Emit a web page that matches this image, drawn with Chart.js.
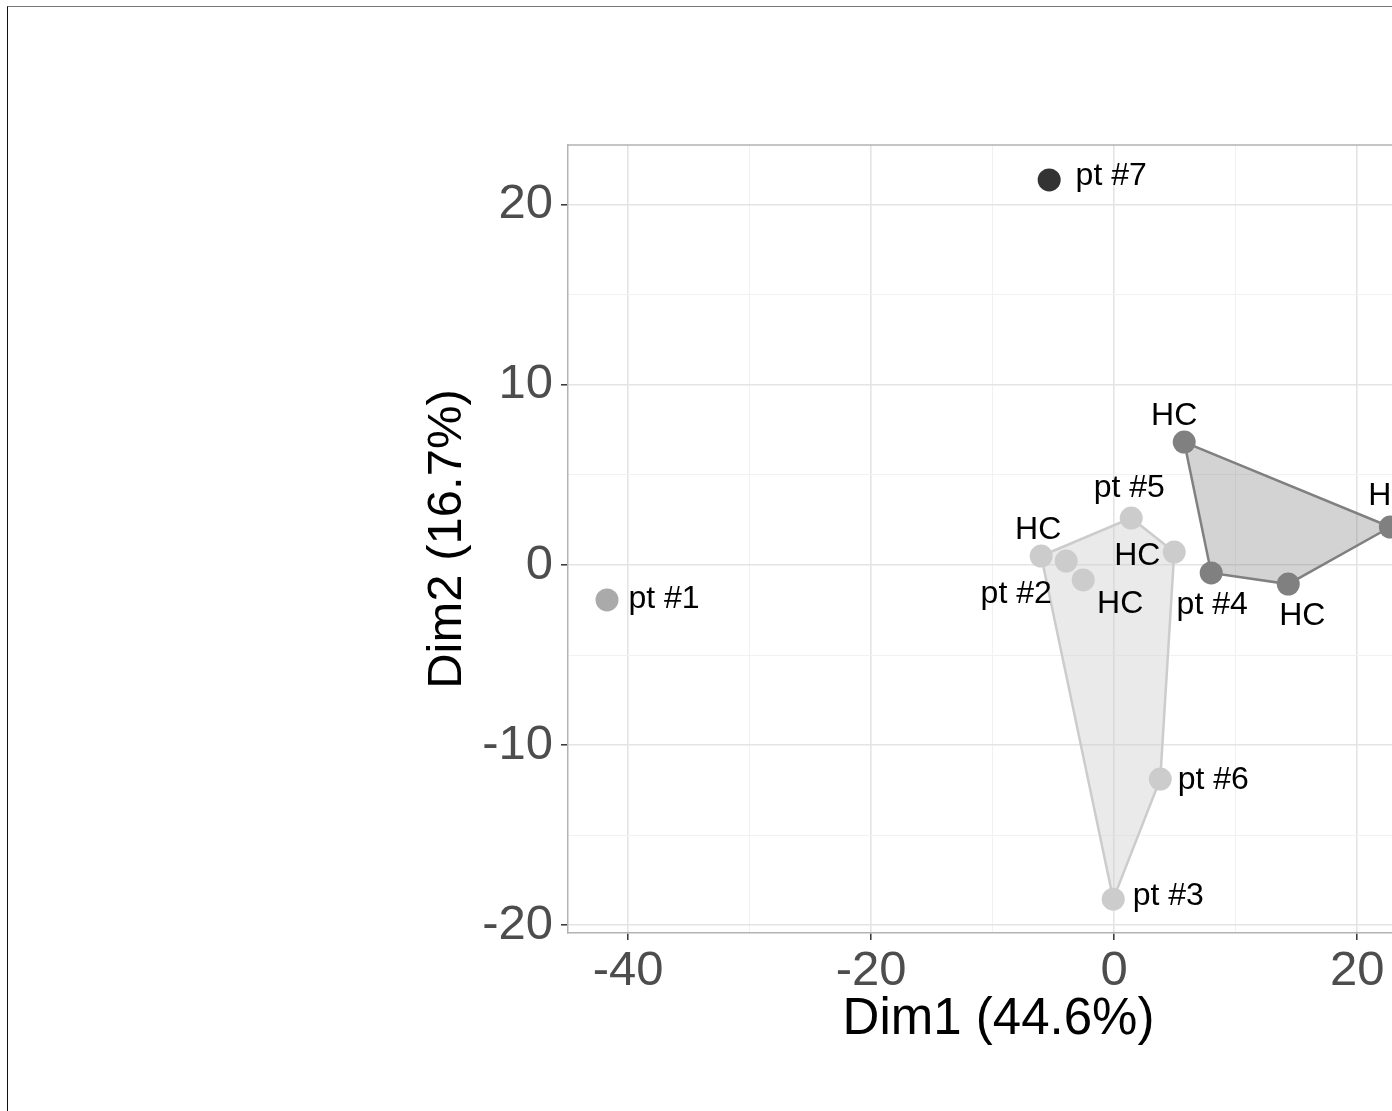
<!DOCTYPE html>
<html lang="en">
<head>
<meta charset="UTF-8">
<title>PCA - individuals</title>
<style>
    html, body { margin: 0; padding: 0; background: #fff; overflow: hidden; }
    #frame {
        position: absolute; left: 7px; top: 6px; width: 1500px; height: 1200px;
        border-left: 1px solid #111; border-top: 1px solid #777;
    }
    #pca { position: absolute; left: 0; top: 0; }
</style>
<script src="https://cdn.jsdelivr.net/npm/chart.js"></script>
</head>
<body>
<div id="frame"></div>
<canvas id="pca" width="1500" height="1111"></canvas>
<script>
// axis titles and labelled ticks
const dim1Title = 'Dim1 (44.6%)';
const dim2Title = 'Dim2 (16.7%)';
const xTickLabels = [-40, -20, 0, 20];
const yTickLabels = [-20, -10, 0, 10, 20];

// single points
const pt7Labels = ['pt #7'];
const pt7Dim1 = [-5.35];
const pt7Dim2 = [21.39];

const pt1Labels = ['pt #1'];
const pt1Dim1 = [-41.73];
const pt1Dim2 = [-1.94];

// light grey cluster
const lightLabels = ['HC', 'pt #2', 'HC', 'pt #5', 'HC', 'pt #6', 'pt #3'];
const lightDim1 = [-6.01, -3.95, -2.55, 1.40, 4.94, 3.79, -0.08];
const lightDim2 = [0.50, 0.22, -0.83, 2.61, 0.72, -11.89, -18.56];
const lightHull = [0, 3, 4, 5, 6];

// dark grey cluster
const darkLabels = ['HC', 'HC', 'HC', 'pt #4'];
const darkDim1 = [5.76, 22.72, 14.32, 7.98];
const darkDim2 = [6.83, 2.11, -1.06, -0.44];
const darkHull = [0, 1, 2, 3];

// where each text label sits relative to its point (px)
const pt7Offsets = [[62, -4]];
const pt1Offsets = [[57, -1]];
const lightOffsets = [[-3, -26], [-50, 33], [37, 24], [-2, -30], [-37, 4], [53, 1], [55, -3]];
const darkOffsets = [[-10, -26], [1, -31], [14, 32], [1, 32]];

const FONT = '"Liberation Sans", Arial, Helvetica, sans-serif';

function points(xs, ys) {
    return xs.map((x, i) => ({ x: x, y: ys[i] }));
}
function hull(xs, ys, idx) {
    const p = idx.map(i => ({ x: xs[i], y: ys[i] }));
    p.push(p[0]);
    return p;
}
function pointSet(xs, ys, labels, offsets, color) {
    return {
        type: 'scatter',
        data: points(xs, ys),
        pointLabels: labels,
        labelOffsets: offsets,
        backgroundColor: color,
        pointRadius: 11.5,
        pointHoverRadius: 11.5,
        borderWidth: 0,
        order: 1
    };
}
function hullSet(xs, ys, idx, line, fill) {
    return {
        type: 'line',
        data: hull(xs, ys, idx),
        borderColor: line,
        backgroundColor: fill,
        borderWidth: 2.5,
        pointRadius: 0,
        tension: 0,
        fill: 'shape',
        order: 2
    };
}

const isMajor = (v, step) => Math.abs(v - Math.round(v / step) * step) < 1e-6;

// draws the text next to each point
const pointLabelPlugin = {
    id: 'pointLabels',
    afterDatasetsDraw(chart) {
        const ctx = chart.ctx;
        ctx.save();
        ctx.font = '32px ' + FONT;
        ctx.fillStyle = '#000';
        ctx.textAlign = 'center';
        ctx.textBaseline = 'middle';
        chart.data.datasets.forEach((ds, i) => {
            if (!ds.pointLabels) return;
            chart.getDatasetMeta(i).data.forEach((el, j) => {
                const off = ds.labelOffsets[j];
                ctx.fillText(ds.pointLabels[j], el.x + off[0], el.y + off[1]);
            });
        });
        ctx.restore();
    }
};

// top and right panel border
const panelBorder = {
    id: 'panelBorder',
    afterDraw(chart) {
        const a = chart.chartArea, ctx = chart.ctx;
        ctx.save();
        ctx.strokeStyle = '#b3b3b3';
        ctx.lineWidth = 1.5;
        ctx.beginPath();
        ctx.moveTo(a.left, a.top);
        ctx.lineTo(a.right, a.top);
        ctx.lineTo(a.right, a.bottom);
        ctx.stroke();
        ctx.restore();
    }
};

new Chart(document.getElementById('pca'), {
    type: 'scatter',
    data: {
        datasets: [
            hullSet(lightDim1, lightDim2, lightHull, '#cccccc', 'rgba(204,204,204,0.42)'),
            hullSet(darkDim1, darkDim2, darkHull, '#808080', 'rgba(128,128,128,0.35)'),
            pointSet(lightDim1, lightDim2, lightLabels, lightOffsets, '#cccccc'),
            pointSet(darkDim1, darkDim2, darkLabels, darkOffsets, '#808080'),
            pointSet(pt1Dim1, pt1Dim2, pt1Labels, pt1Offsets, '#aaaaaa'),
            pointSet(pt7Dim1, pt7Dim2, pt7Labels, pt7Offsets, '#333333')
        ]
    },
    options: {
        responsive: false,
        animation: false,
        layout: { padding: { left: 418, top: 145, right: 71, bottom: 60 } },
        plugins: { legend: { display: false }, tooltip: { enabled: false } },
        scales: {
            x: {
                type: 'linear',
                min: -44.94,
                max: 25.9,
                afterFit(s) { s.height = 118; },
                ticks: {
                    stepSize: 10,
                    includeBounds: false,
                    autoSkip: false,
                    maxRotation: 0,
                    padding: 2,
                    color: '#4d4d4d',
                    font: { size: 49, family: FONT },
                    callback: v => xTickLabels.includes(Math.round(v)) && isMajor(v, 20) ? String(Math.round(v)) : ''
                },
                grid: {
                    color: c => isMajor(c.tick.value, 20) ? '#e4e4e4' : '#f1f1f1',
                    lineWidth: c => isMajor(c.tick.value, 20) ? 1.6 : 1,
                    tickLength: 7,
                    tickWidth: 1.5,
                    tickColor: c => isMajor(c.tick.value, 20) ? '#333333' : 'rgba(0,0,0,0)'
                },
                border: { color: '#b3b3b3', width: 1.5 },
                title: { display: true, text: dim1Title, color: '#000', font: { size: 51, family: FONT }, padding: 0 }
            },
            y: {
                type: 'linear',
                min: -20.44,
                max: 23.33,
                afterFit(s) { s.width = 150; },
                ticks: {
                    stepSize: 5,
                    includeBounds: false,
                    autoSkip: false,
                    padding: 8,
                    color: '#4d4d4d',
                    font: { size: 49, family: FONT },
                    callback: v => yTickLabels.includes(Math.round(v)) && isMajor(v, 10) ? String(Math.round(v)) : ''
                },
                grid: {
                    color: c => isMajor(c.tick.value, 10) ? '#e4e4e4' : '#f1f1f1',
                    lineWidth: c => isMajor(c.tick.value, 10) ? 1.6 : 1,
                    tickLength: 7,
                    tickWidth: 1.5,
                    tickColor: c => isMajor(c.tick.value, 10) ? '#333333' : 'rgba(0,0,0,0)'
                },
                border: { color: '#b3b3b3', width: 1.5 },
                title: { display: true, text: dim2Title, color: '#000', font: { size: 49, family: FONT }, padding: 0 }
            }
        }
    },
    plugins: [pointLabelPlugin, panelBorder]
});
</script>
</body>
</html>
